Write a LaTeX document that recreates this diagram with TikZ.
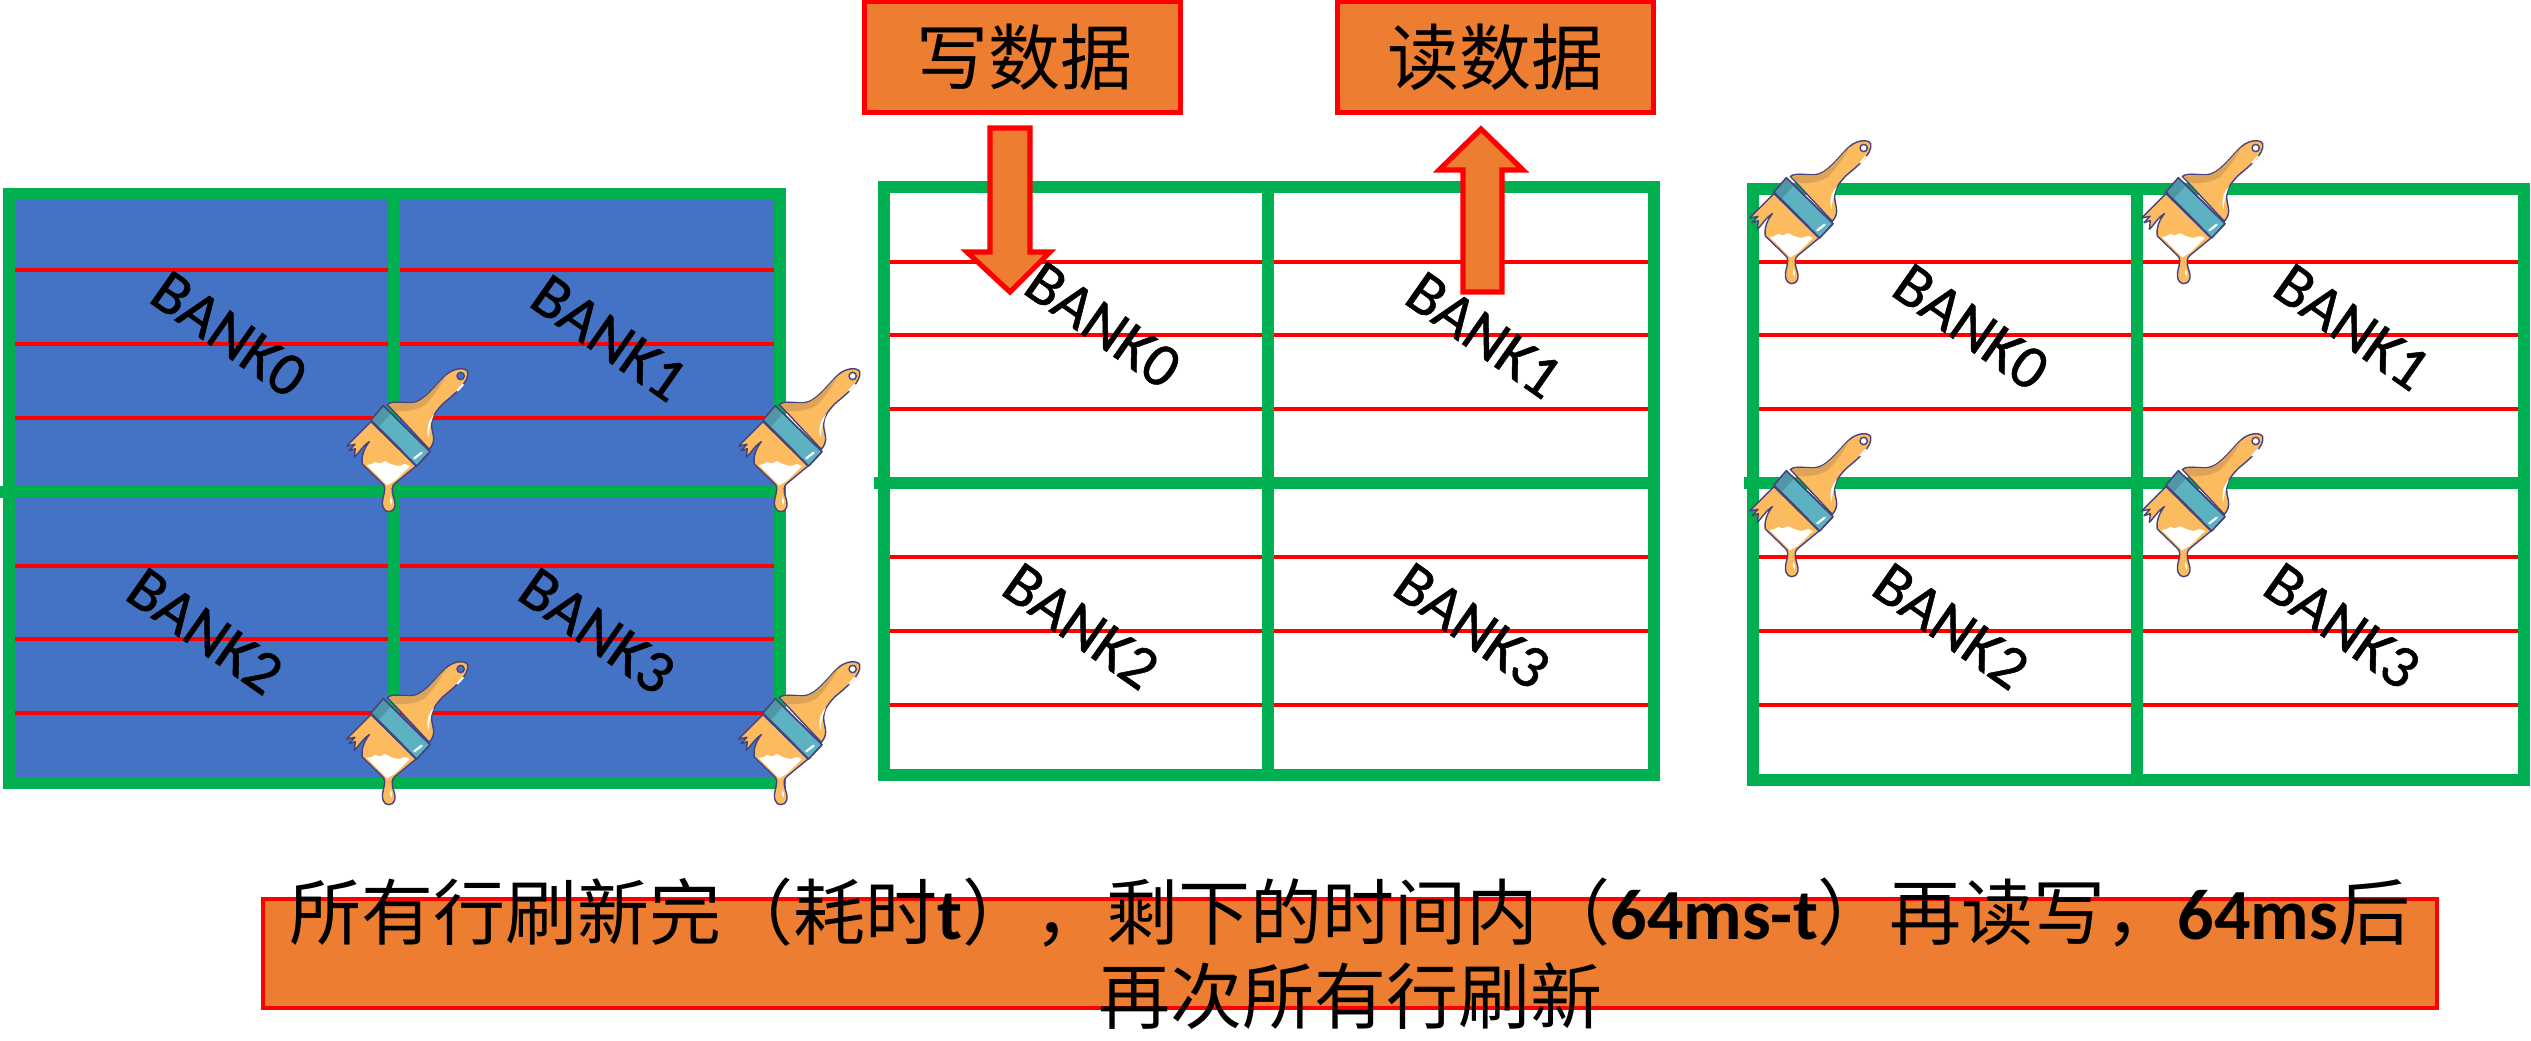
\documentclass[tikz,border=0pt]{standalone}
\usepackage{fontspec}
\newfontfamily\cjkfont{Noto Sans CJK SC}
\newfontfamily\latfont{Carlito}
\newfontfamily\bankfont[FakeBold=0.8]{Carlito}
\definecolor{gridgreen}{HTML}{00B050}
\definecolor{boxorange}{HTML}{ED7D31}
\definecolor{bankblue}{HTML}{4472C4}
\definecolor{brushbody}{HTML}{FDBB5F}
\definecolor{brushdark}{HTML}{DDA356}
\definecolor{brushteal}{HTML}{5DB2C2}
\definecolor{brushtealdark}{HTML}{4F97A6}
\definecolor{brushline}{HTML}{46427E}
\tikzset{
  gridline/.style={draw=gridgreen,line width=6pt},
  rowline/.style={draw=red,line width=2.2pt},
  bank/.style={font=\bankfont\fontsize{31}{31}\selectfont,rotate=-35,inner sep=0pt},
  opbox/.style={draw=red,fill=boxorange,line width=2.6pt,minimum width=158pt,minimum height=55.5pt,inner sep=0pt,
    font=\cjkfont\fontsize{36}{36}\selectfont},
  blockarrow/.style={draw=red,fill=boxorange,line width=2.6pt,line join=miter},
  brushstroke/.style={draw=brushline,line width=.7pt,line join=round},
  brush/.pic={
    \begin{scope}[x=0.16667pt,y=-0.16667pt]
      \path[brushstroke,fill=brushbody,even odd rule]
        (262,193) .. controls (285,178) and (320,195) .. (350,185)
        .. controls (385,170) and (410,130) .. (440,103)
        .. controls (460,85) and (495,80) .. (503,95)
        .. controls (510,125) and (460,165) .. (430,190)
        .. controls (410,210) and (395,230) .. (395,255)
        .. controls (395,280) and (412,300) .. (388,328) -- cycle
        (482,108) circle[radius=11];
      \fill[brushdark] (268,196) .. controls (285,181) and (320,197) .. (350,187)
        .. controls (385,172) and (410,132) .. (440,105)
        .. controls (420,140) and (400,170) .. (375,195)
        .. controls (345,215) and (300,215) .. (285,212) -- cycle;
      \fill[white] (385,292) .. controls (378,265) and (385,240) .. (402,224)
        .. controls (392,245) and (388,270) .. (385,292) -- cycle;
      \draw[white,line width=1pt,line cap=round] (472,152) -- (489,134);
      \path[brushstroke,fill=brushbody]
        (213,245) -- (140,318) -- (165,313) -- (147,332) -- (166,326) -- (163,352)
        .. controls (180,335) and (190,315) .. (208,305)
        .. controls (192,325) and (183,350) .. (187,372)
        -- (245,428) .. controls (258,438) and (255,450) .. (250,470)
        .. controls (243,495) and (250,515) .. (266,515)
        .. controls (285,515) and (290,495) .. (280,470)
        .. controls (274,450) and (275,438) .. (285,430)
        -- (348,378) -- cycle;
      \fill[white] (200,375) -- (215,372) -- (225,366) -- (240,370) -- (255,363)
        -- (272,372) -- (295,378) -- (315,372) -- (330,378) -- (285,422)
        -- (262,436) -- cycle;
      \fill[white] (272,470) .. controls (268,480) and (270,490) .. (274,495)
        .. controls (278,488) and (276,478) .. (272,470) -- cycle;
      \path[brushstroke,fill=brushteal] (250,197) -- (390,335) -- (350,378) -- (213,240) -- cycle;
      \fill[brushtealdark] (250,199) -- (272,221) -- (235,262) -- (215,240) -- cycle;
      \draw[white,line width=1.1pt,line cap=round] (343,355) -- (365,338);
      \path[brushstroke] (250,197) -- (390,335) -- (350,378) -- (213,240) -- cycle;
    \end{scope}
  }
}
\begin{document}
\begin{tikzpicture}[x=0.5pt,y=-0.5pt]
\useasboundingbox (0,0) rectangle (2531,1040);
% grid 1
\fill[bankblue] (9,194) rectangle (780,783);
\foreach \y in {270,344,418,566,639,713} \draw[rowline] (15,\y) -- (774,\y);
\draw[gridline] (9,194) rectangle (780,783);
\draw[gridline] (394,194) -- (394,783);
\draw[gridline] (0,492) -- (780,492);
% grid 2
\foreach \y in {262,335,409,557,631,705} \draw[rowline] (889,\y) -- (1648,\y);
\draw[gridline] (884,187) rectangle (1654,775);
\draw[gridline] (1268,187) -- (1268,775);
\draw[gridline] (874,483) -- (1654,483);
% grid 3
\foreach \y in {262,335,409,557,631,705} \draw[rowline] (1758,\y) -- (2518,\y);
\draw[gridline] (1753,189) rectangle (2524,780);
\draw[gridline] (2137,189) -- (2137,780);
\draw[gridline] (1744,483) -- (2524,483);
% labels
\node[bank] (a0) at (229,334) {BANK0};
\node[bank] (a1) at (609,338) {BANK1};
\node[bank] (a2) at (205,631) {BANK2};
\node[bank] (a3) at (597,631) {BANK3};
\node[bank] (b0) at (1103,325) {BANK0};
\node[bank] (b1) at (1484,335) {BANK1};
\node[bank] (b2) at (1081,626) {BANK2};
\node[bank] (b3) at (1472,626) {BANK3};
\node[bank] (c0) at (1971,327) {BANK0};
\node[bank] (c1) at (2352,327) {BANK1};
\node[bank] (c2) at (1951,626) {BANK2};
\node[bank] (c3) at (2342,626) {BANK3};
% brushes
\foreach \px/\py in {300/340,692/340,300/633,692/633,1703/112,2095/112,1703/405,2095/405}
  \path (\px,\py) pic {brush};
% operation boxes
\node[opbox] (write) at (1022.5,57) {\hspace{1.5pt}写数据};
\node[opbox] (read) at (1495.5,57) {读数据};
\draw[blockarrow] (990,128) -- (1030,128) -- (1030,252) -- (1050,252) -- (1010,292) -- (967,252) -- (990,252) -- cycle;
\draw[blockarrow] (1463,292) -- (1502,292) -- (1502,170) -- (1523,170) -- (1481,129) -- (1439,170) -- (1463,170) -- cycle;
% bottom
\node[draw=red,fill=boxorange,line width=2.2pt,minimum width=1087pt,minimum height=54.5pt,inner sep=0pt] (note) at (1350,953.5) {};
\node[align=center,inner sep=0pt,font=\cjkfont\fontsize{36}{42}\selectfont] (notetext) at (1350,954)
  {所有行刷新完（耗时{\latfont\bfseries t}），剩下的时间内（{\latfont\bfseries 64ms-t}）再读写，{\latfont\bfseries 64ms}后\\再次所有行刷新};
\end{tikzpicture}
\end{document}
